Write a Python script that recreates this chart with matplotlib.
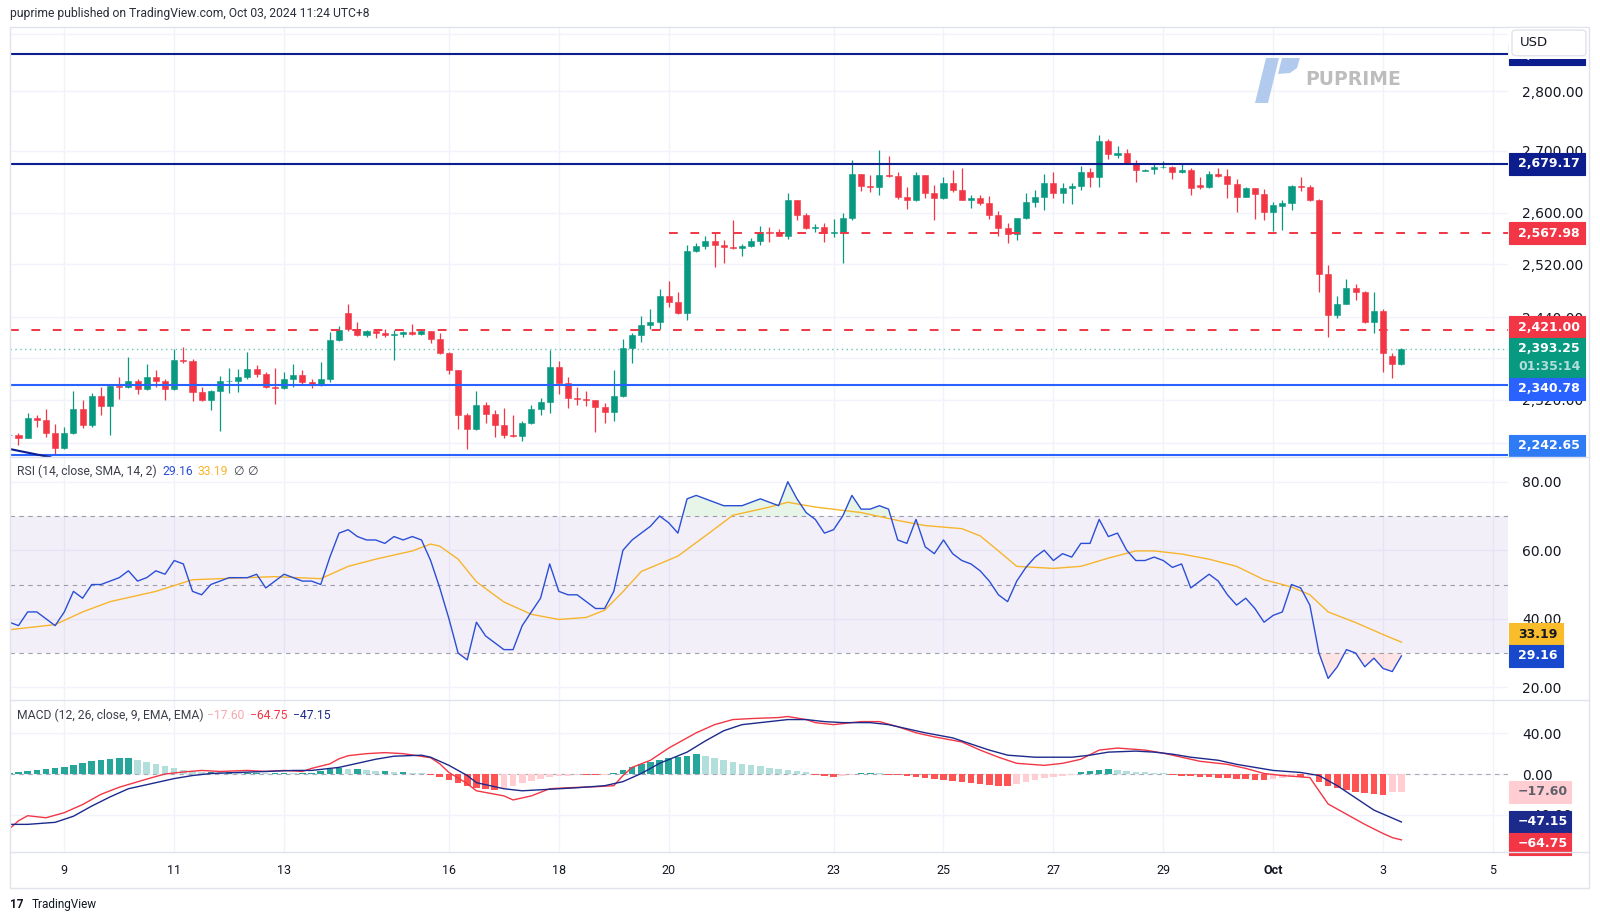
import numpy as np
import pandas as pd
import matplotlib
matplotlib.use("Agg")
import matplotlib.pyplot as plt
import matplotlib.dates as mdates
from matplotlib.patches import Rectangle, Polygon, FancyBboxPatch
from matplotlib.lines import Line2D
from matplotlib.ticker import NullLocator, NullFormatter

W, H = 1600, 922
GREEN = '#089981'
RED = '#f23645'
NAVY = '#0c1e8e'
BLUE = '#2962ff'
GRID = '#f0f3fa'
TEXT = '#131722'
RSI_C = '#2a4fd6'
SMA_C = '#f7b52c'

# ---------------- data (4h candles, UTC+8) ----------------
bar_start = '2024-09-08 00:00'
opens = [2270, 2271, 2267, 2295, 2292, 2273, 2253, 2274, 2307, 2284,
         2325, 2311, 2340, 2338, 2347, 2335, 2352, 2347, 2335, 2377,
         2375, 2331, 2320, 2333, 2346, 2347, 2352, 2364, 2357, 2338,
         2336, 2350, 2355, 2345, 2341, 2349, 2406, 2446, 2422, 2413,
         2420, 2416, 2413, 2415, 2418, 2415, 2419, 2408, 2387, 2362,
         2298, 2279, 2313, 2300, 2284, 2270, 2269, 2287, 2307, 2317,
         2367, 2344, 2322, 2321, 2319, 2310, 2303, 2325, 2395, 2413,
         2428, 2433, 2471, 2463, 2446, 2540, 2548, 2556, 2550, 2547,
         2545, 2548, 2556, 2570, 2568, 2564, 2620, 2596, 2576, 2578,
         2568, 2570, 2592, 2662, 2643, 2641, 2661, 2659, 2625, 2621,
         2660, 2631, 2624, 2648, 2636, 2621, 2623, 2615, 2597, 2576,
         2567, 2592, 2617, 2626, 2648, 2632, 2640, 2643, 2666, 2657,
         2717, 2693, 2696, 2681, 2668, 2670, 2673, 2674, 2665, 2669,
         2644, 2642, 2662, 2659, 2646, 2626, 2639, 2630, 2601, 2611,
         2616, 2643, 2641, 2620, 2505, 2443, 2460, 2484, 2477, 2432,
         2449, 2383, 2371]
highs = [2273, 2274, 2302, 2298, 2307, 2286, 2282, 2332, 2319, 2330,
         2338, 2341, 2352, 2381, 2349, 2371, 2363, 2350, 2393, 2396,
         2379, 2338, 2334, 2354, 2366, 2364, 2389, 2370, 2360, 2365,
         2360, 2371, 2363, 2350, 2374, 2418, 2427, 2459, 2433, 2421,
         2422, 2422, 2421, 2420, 2430, 2422, 2420, 2417, 2389, 2362,
         2302, 2333, 2317, 2306, 2308, 2299, 2290, 2313, 2322, 2392,
         2376, 2352, 2338, 2333, 2320, 2316, 2363, 2407, 2417, 2441,
         2452, 2482, 2494, 2477, 2550, 2553, 2564, 2568, 2558, 2588,
         2551, 2560, 2579, 2577, 2575, 2632, 2621, 2600, 2582, 2584,
         2590, 2600, 2685, 2663, 2661, 2702, 2691, 2665, 2642, 2666,
         2661, 2645, 2658, 2669, 2672, 2629, 2628, 2627, 2603, 2584,
         2592, 2632, 2636, 2662, 2665, 2647, 2648, 2675, 2672, 2726,
         2719, 2708, 2703, 2685, 2670, 2681, 2683, 2676, 2681, 2672,
         2657, 2668, 2672, 2670, 2654, 2642, 2640, 2638, 2617, 2620,
         2645, 2657, 2644, 2622, 2518, 2472, 2498, 2490, 2479, 2477,
         2452, 2387, 2395]
lows = [2266, 2257, 2266, 2282, 2268, 2244, 2251, 2272, 2281, 2282,
        2298, 2271, 2321, 2337, 2328, 2334, 2338, 2320, 2334, 2372,
        2318, 2318, 2306, 2276, 2329, 2331, 2350, 2352, 2337, 2314,
        2335, 2338, 2343, 2336, 2340, 2345, 2405, 2420, 2412, 2411,
        2409, 2411, 2377, 2410, 2414, 2414, 2401, 2386, 2356, 2279,
        2251, 2278, 2287, 2268, 2266, 2268, 2262, 2286, 2299, 2302,
        2328, 2309, 2313, 2311, 2275, 2287, 2290, 2324, 2373, 2403,
        2422, 2422, 2455, 2445, 2436, 2538, 2544, 2516, 2522, 2544,
        2533, 2546, 2549, 2554, 2563, 2559, 2588, 2575, 2570, 2554,
        2562, 2522, 2589, 2635, 2634, 2629, 2657, 2622, 2606, 2619,
        2624, 2589, 2622, 2633, 2620, 2608, 2612, 2590, 2563, 2553,
        2557, 2590, 2609, 2605, 2624, 2615, 2614, 2636, 2642, 2642,
        2686, 2689, 2679, 2649, 2667, 2662, 2672, 2655, 2664, 2629,
        2638, 2639, 2657, 2624, 2601, 2625, 2591, 2589, 2571, 2573,
        2605, 2635, 2619, 2477, 2410, 2438, 2459, 2465, 2431, 2417,
        2359, 2351, 2370]
closes = [2271, 2267, 2295, 2292, 2273, 2253, 2274, 2307, 2284, 2325,
          2311, 2340, 2338, 2347, 2335, 2352, 2347, 2335, 2377, 2375,
          2331, 2320, 2333, 2346, 2347, 2352, 2364, 2357, 2338, 2336,
          2350, 2355, 2345, 2341, 2349, 2406, 2421, 2422, 2413, 2420,
          2416, 2413, 2415, 2418, 2415, 2419, 2408, 2387, 2362, 2298,
          2279, 2313, 2300, 2284, 2270, 2269, 2287, 2307, 2317, 2367,
          2344, 2322, 2321, 2319, 2310, 2303, 2325, 2395, 2413, 2428,
          2433, 2471, 2463, 2446, 2540, 2548, 2556, 2550, 2546, 2545,
          2548, 2556, 2570, 2568, 2564, 2620, 2596, 2576, 2578, 2568,
          2570, 2592, 2662, 2643, 2641, 2661, 2659, 2625, 2621, 2660,
          2631, 2624, 2648, 2636, 2621, 2623, 2615, 2597, 2576, 2567,
          2592, 2617, 2626, 2648, 2632, 2640, 2643, 2666, 2657, 2717,
          2695, 2696, 2681, 2669, 2669, 2673, 2674, 2665, 2669, 2640,
          2642, 2662, 2659, 2646, 2626, 2639, 2630, 2601, 2613, 2616,
          2643, 2641, 2620, 2505, 2443, 2460, 2484, 2477, 2432, 2449,
          2387, 2371, 2393.25]

level_top = 2864.0
level_res = 2679.17
level_res2 = 2567.98
level_mid = 2421.00
level_sup = 2340.78
level_sup2 = 2242.65
last_price = 2393.25
countdown = '01:35:14'
res2_from = '2024-09-20 00:00'
trend_t = ['2024-09-07 20:00', '2024-09-08 18:00']
trend_p = [2254, 2240]

price_ticks = [2260, 2320, 2380, 2440, 2520, 2600, 2700, 2800, 2900]
hidden_ticks = [2260, 2380, 2900]   # covered by price tags in the reference

rsi = [39, 38, 42, 42, 40, 38, 42, 48, 46, 50,
       50, 51, 52, 54, 51, 52, 54, 53, 57, 56,
       48, 47, 50, 51, 52, 52, 52, 53, 49, 51,
       53, 52, 51, 51, 50, 58, 65, 66, 64, 63,
       63, 62, 64, 63, 64, 63, 57, 49, 40, 30,
       28, 39, 35, 33, 31, 31, 38, 42, 46, 56,
       48, 47, 47, 45, 43, 43, 48, 60, 63, 65,
       67, 70, 68, 65, 75, 76, 75, 74, 73, 73,
       73, 74, 75, 74, 73, 80, 75, 71, 69, 65,
       66, 70, 76, 72, 72, 73, 72, 63, 62, 69,
       61, 59, 63, 59, 57, 56, 54, 51, 47, 45,
       51, 55, 58, 60, 57, 59, 58, 62, 62, 69,
       64, 65, 60, 57, 57, 58, 57, 55, 56, 49,
       51, 53, 51, 47, 44, 46, 43, 39, 41, 42,
       50, 49, 44, 30, 22.6, 26, 31, 30, 26, 28.5,
       25.5, 24.6, 29.16]
rsi_sma_idx = [0, 5, 8, 11, 16, 20, 26, 29, 34, 37, 40, 44, 46, 47, 49, 51, 54,
               57, 60, 63, 65, 67, 69, 73, 76, 79, 83, 85, 88, 93, 97, 100, 104,
               106, 108, 110, 114, 117, 120, 123, 125, 128, 131, 134, 137, 140,
               142, 144, 147, 150, 152]
rsi_sma = [36.8, 38.3, 42, 45, 48, 51.4, 52, 52.3, 51.7, 55.3, 57.4, 59.8, 61.8,
           61.2, 57.4, 50.8, 44.9, 41.3, 39.8, 40.4, 42.5, 47.9, 53.8, 58.3, 64.2,
           70.2, 72.6, 74, 72.6, 71, 68.7, 67.2, 66.3, 64.2, 59.8, 55.3, 54.7,
           55.3, 57.7, 59.8, 59.8, 58.9, 57.4, 55.3, 51.4, 49.3, 47, 42, 38.9,
           35.4, 33.19]

macd_idx = [0, 1, 2, 4, 6, 8, 10, 12, 15, 17, 19, 21, 23, 26, 28, 30, 32, 33, 35,
            36, 37, 39, 41, 43, 46, 47, 48, 50, 51, 54, 55, 57, 59, 61, 64, 66,
            67, 68, 70, 72, 75, 77, 79, 81, 84, 85, 87, 88, 90, 93, 95, 97, 99,
            101, 104, 106, 108, 110, 113, 115, 117, 119, 121, 124, 126, 128, 130,
            133, 135, 137, 139, 142, 143, 144, 146, 148, 150, 151, 152]
macd = [-54, -46, -41, -43, -38, -30, -20, -13, -5, 0, 2, 3.5, 2.5, 3.5, 2.5,
        3.5, 2.5, 5.5, 10, 15, 18, 20, 21, 20, 16, 10, 1.5, -9.5, -16.5, -21.5,
        -25.5, -21.5, -14.5, -13.5, -12.5, -11.5, -1.5, 6.5, 13.5, 25.5, 40.5,
        48.5, 53.5, 54.5, 55.5, 56.5, 53.5, 50.5, 48.5, 51.5, 51.5, 46.5, 40.5,
        36.5, 31.5, 23.5, 16.5, 10.5, 8.5, 10.5, 14.5, 23.5, 25.5, 23.5, 20.5,
        16.5, 12.5, 9.5, 5.5, 0.5, -1.5, -3.5, -16.5, -29.5, -39.5, -49.5,
        -58.5, -62.5, -64.75]
signal_idx = [0, 2, 5, 7, 9, 11, 13, 16, 18, 20, 22, 25, 28, 31, 33, 36, 38, 40,
              42, 45, 46, 48, 50, 51, 54, 56, 58, 60, 62, 65, 67, 69, 71, 74, 76,
              78, 80, 83, 85, 87, 89, 91, 94, 96, 98, 100, 103, 105, 107, 109, 112,
              114, 116, 118, 120, 123, 125, 127, 129, 132, 134, 136, 138, 141, 143,
              145, 147, 149, 152]
signal = [-49.5, -49.5, -47.5, -41.5, -31.5, -22.5, -14.5, -8.5, -4.5, -1.5, 0.5,
          1.5, 2.5, 3.5, 3.5, 6.5, 10.5, 14.5, 17.5, 18.5, 16.5, 8.5, -1.5, -8.5,
          -14.5, -16.5, -15.5, -14.5, -13.5, -11.5, -7.5, 0.5, 10.5, 21.5, 32.5,
          42.5, 48.5, 51.5, 53.5, 53.5, 51.5, 50.5, 50.5, 48.5, 44.5, 40.5, 35.5,
          29.5, 23.5, 18.5, 16.5, 16.5, 16.5, 18.5, 21.5, 22.5, 21.5, 19.5, 16.5,
          13.5, 9.5, 6.5, 3.5, 1.5, -1.5, -11.5, -23.5, -35.5, -47.15]
hist = [1, 2, 3,
        4, 5, 6, 7,
        9, 11, 13, 14, 15, 16, 16,
        14, 12, 10, 8, 6, 4, 3,
        2, 2, 1.5, 1.5, 1, 1, 1, 0.5, 1, 1, 0.5, 0.5, 1,
        3, 5, 6,
        5, 5, 4, 3, 3, 2, 2, 1, 0.5, -1,
        -3, -6, -9, -12, -14, -15, -16, -14,
        -12, -9, -7, -5, -3, -2,
        -1.5, -1, -1, -1, -0.5, 0.5,
        4, 7, 10, 12, 14, 16, 17, 18, 20,
        18, 16, 14, 12, 10, 9, 8, 6, 5, 4, 3, 2,
        -1, -2, -3, -2, -1,
        1, 1, 0.5, -0.5, -1,
        -2, -3, -4, -5, -6, -7, -8, -9, -10, -11, -12, -12,
        -10, -8, -6, -4, -3, -2, -1,
        2, 3, 4, 5, 4, 3,
        2, 1.5, 1, 0.5,
        -1, -2, -2, -3, -3, -4, -4, -5, -5, -6, -6, -5, -4,
        -3, -3, -2,
        -8, -12, -14, -16, -18, -19, -20, -21, -18, -17.6]
rsi_last, rsi_sma_last = 29.16, 33.19
hist_last, macd_last, signal_last = -17.60, -64.75, -47.15

day_ticks = ['2024-09-09', '2024-09-11', '2024-09-13', '2024-09-16', '2024-09-18',
             '2024-09-20', '2024-09-23', '2024-09-25', '2024-09-27', '2024-09-29',
             '2024-10-01', '2024-10-03', '2024-10-05']
day_labels = ['9', '11', '13', '16', '18', '20', '23', '25', '27', '29', 'Oct', '3', '5']

# ---------------- figure ----------------
plt.rcParams['font.family'] = ['DejaVu Sans']
fig = plt.figure(figsize=(W / 100, H / 100), dpi=100)
fig.patch.set_facecolor('white')

L, R = 10, 1508
def pane(top, bottom):
    return fig.add_axes([L / W, 1 - bottom / H, (R - L) / W, (bottom - top) / H])

ax_p = pane(27, 457)
ax_r = pane(457, 700)
ax_m = pane(700, 852)

times = pd.date_range(bar_start, periods=len(closes), freq='4h')
t = mdates.date2num(times)
t9 = mdates.date2num(pd.Timestamp('2024-09-09'))
xlim = (t9 - 0.988, t9 + 26.273)
day_pos = mdates.date2num(pd.to_datetime(day_ticks))

for ax in (ax_p, ax_r, ax_m):
    ax.set_facecolor('white')
    for s in ax.spines.values():
        s.set_visible(False)
    ax.set_xlim(*xlim)
    ax.set_xticks(day_pos)
    ax.tick_params(axis='x', length=0, labelbottom=False)
    ax.yaxis.tick_right()
    ax.tick_params(axis='y', length=0, pad=10, labelsize=10, labelcolor=TEXT)
    ax.grid(True, color=GRID, lw=1)
    ax.set_axisbelow(True)

# price pane
o = np.array(opens, float); hi = np.array(highs, float)
lo = np.array(lows, float); c = np.array(closes, float)
cols = np.where(c >= o, GREEN, RED)
ax_p.set_yscale('log')
ax_p.set_ylim(2240.4, 2912)
ax_p.set_yticks(price_ticks)
ax_p.set_yticklabels(['' if v in hidden_ticks else f'{v:,.2f}' for v in price_ticks])
ax_p.yaxis.set_minor_locator(NullLocator())
ax_p.yaxis.set_minor_formatter(NullFormatter())

ax_p.vlines(t, lo, hi, colors=cols, lw=0.9, zorder=3)
body = np.maximum(np.abs(c - o), 0.8)
ax_p.bar(t, body, bottom=np.minimum(o, c), width=0.11, color=cols,
         edgecolor=cols, lw=0.4, zorder=4)

ax_p.axhline(level_top, color=NAVY, lw=1.5, zorder=5)
ax_p.axhline(level_res, color=NAVY, lw=1.5, zorder=5)
ax_p.axhline(level_sup, color=BLUE, lw=1.5, zorder=5)
ax_p.axhline(level_sup2, color=BLUE, lw=1.5, zorder=5)
ax_p.axhline(level_mid, color=RED, lw=1.4, dashes=(4.5, 6.5), zorder=5)
ax_p.plot([mdates.date2num(pd.Timestamp(res2_from)), xlim[1] + 1], [level_res2] * 2,
          color=RED, lw=1.4, dashes=(4.5, 6.5), zorder=5)
ax_p.axhline(last_price, color=GREEN, lw=1, ls=(0, (1, 2.5)), alpha=0.6, zorder=2)
ax_p.plot(mdates.date2num(pd.to_datetime(trend_t)), trend_p, color=NAVY, lw=1.5, zorder=5)
ax_p.set_xlim(*xlim)

# RSI pane
ax_r.set_ylim(16.3, 87.21)
ax_r.set_yticks([20, 40, 60, 80])
ax_r.set_yticklabels(['20.00', '40.00', '60.00', '80.00'])
ax_r.axhspan(30, 70, color='#7e57c2', alpha=0.09, lw=0)
for lvl in (70, 50, 30):
    ax_r.axhline(lvl, color='#787b86', lw=0.8, dashes=(4, 4), alpha=0.7)
rv = np.array(rsi, float)
ax_r.fill_between(t, rv, 70, where=rv > 70, interpolate=True, color='#4caf50', alpha=0.13, lw=0)
ax_r.fill_between(t, rv, 30, where=rv < 30, interpolate=True, color='#f23645', alpha=0.13, lw=0)
ax_r.plot(t, rv, color=RSI_C, lw=1.0, zorder=4)
ax_r.plot(t[rsi_sma_idx], rsi_sma, color=SMA_C, lw=1.0, zorder=3)

# MACD pane
ax_m.set_ylim(-76.66, 72.73)
ax_m.set_yticks([-40, 0, 40])
ax_m.set_yticklabels(['\u221240.00', '0.00', '40.00'])
ax_m.axhline(0, color='#787b86', lw=0.8, dashes=(4, 4), alpha=0.6)
hv = np.array(hist, float)
hcols = []
prev = 0.0
for v in hv:
    if v >= 0:
        hcols.append('#26a69a' if v >= prev else '#b2dfdb')
    else:
        hcols.append('#ff5252' if v <= prev else '#ffcdd2')
    prev = v
ax_m.bar(t, hv, width=0.12, color=hcols, lw=0, zorder=2)
ax_m.plot(t[macd_idx], macd, color='#f23645', lw=1.0, zorder=3)
ax_m.plot(t[signal_idx], signal, color='#1c2a8c', lw=1.0, zorder=4)

ax_m.tick_params(axis='x', labelbottom=True, pad=8.5, labelsize=9, labelcolor=TEXT)
ax_m.set_xticklabels(day_labels, family=['Roboto', 'DejaVu Sans'])
for lab in ax_m.get_xticklabels():
    if lab.get_text() == 'Oct':
        lab.set_fontweight('bold')

# ---------------- overlay: frame, tags, texts ----------------
def box(x0, y0, x1, y1, fc, ec=None, z=5, lw=0.8):
    fig.add_artist(Rectangle((x0 / W, 1 - y1 / H), (x1 - x0) / W, (y1 - y0) / H,
                             transform=fig.transFigure, fc=fc, ec=ec or fc, lw=lw, zorder=z))

def txt(x, y, s, **kw):
    kw.setdefault('va', 'center')
    kw.setdefault('ha', 'left')
    kw.setdefault('zorder', 6)
    fig.text(x / W, 1 - y / H, s, **kw)

def ypix(ax, v):
    return H - ax.transData.transform((xlim[0], v))[1]

def tag(yc, s, fc, tc='white', x1=1585, h=21.7):
    box(1509, yc - h / 2, x1, yc + h / 2, fc)
    txt(1518, yc, s, color=tc, fontsize=9, fontweight='bold')

# frame and separators
for yy in (457, 700, 852):
    fig.add_artist(Line2D([10 / W, 1589 / W], [1 - yy / H] * 2, transform=fig.transFigure,
                          color='#e0e3eb', lw=1, zorder=7))
fig.add_artist(Rectangle((10 / W, 1 - 888 / H), 1579 / W, 861 / H, transform=fig.transFigure,
                         fc='none', ec='#e0e3eb', lw=1, zorder=7))

# price tags
tag(ypix(ax_p, level_top), f'{level_top:,.2f}', NAVY)
tag(ypix(ax_p, level_res), f'{level_res:,.2f}', NAVY)
tag(ypix(ax_p, level_res2), f'{level_res2:,.2f}', RED)
y_last = ypix(ax_p, last_price)
tag(y_last - 10.7 - 10.85, f'{level_mid:,.2f}', RED)
box(1509, y_last - 10.7, 1585, y_last + 29.3, GREEN)
txt(1518, y_last, f'{last_price:,.2f}', color='white', fontsize=9, fontweight='bold')
txt(1518, y_last + 17.7, countdown, color='#b2dfdb', fontsize=9, fontweight='bold')
tag(y_last + 29.3 + 10.85, f'{level_sup:,.2f}', BLUE)
tag(457 - 0.3 - 10.85, f'{level_sup2:,.2f}', '#2f7bf5')

# USD box (with its white margin hiding most of the top tag)
box(1509, 28, 1588, 59, 'white', z=8, lw=0)
fig.add_artist(FancyBboxPatch((1512 / W, 1 - 55.7 / H), 74 / W, 25.7 / H,
                              boxstyle='round,pad=0,rounding_size=0.003',
                              transform=fig.transFigure, fc='white', ec='#e0e3eb',
                              lw=1, zorder=8.5))
txt(1520, 43, 'USD', color=TEXT, fontsize=9.5, zorder=9)

# RSI tags
y_rsi = ypix(ax_r, rsi_last)
tag(y_rsi - 21.7, f'{rsi_sma_last:.2f}', '#f9bd2c', tc=TEXT, x1=1563)
tag(y_rsi, f'{rsi_last:.2f}', '#1848cc', x1=1563)

# MACD tags
y_h = ypix(ax_m, hist_last)
y_s = ypix(ax_m, signal_last)
y_mc = max(ypix(ax_m, macd_last), y_s + 21.7)
tag(y_h, f'{hist_last:.2f}'.replace('-', '\u2212'), '#ffcdd2', tc='#5d606b', x1=1571)
tag(y_s, f'{signal_last:.2f}'.replace('-', '\u2212'), '#1c2a8c', x1=1571)
tag(y_mc, f'{macd_last:.2f}'.replace('-', '\u2212'), '#f23645', x1=1571)

# header and pane legends
HF = ['Roboto', 'DejaVu Sans']
txt(10, 14, 'puprime published on TradingView.com, Oct 03, 2024 11:24 UTC+8',
    color='#2a2e39', fontsize=8.7, family=HF)
txt(17, 471.7, 'RSI (14, close, SMA, 14, 2)', color='#3b3f4a', fontsize=8.7, family=HF)
txt(162.7, 471.7, f'{rsi_last:.2f}', color=RSI_C, fontsize=8.7, family=HF)
txt(197.3, 471.7, f'{rsi_sma_last:.2f}', color=SMA_C, fontsize=8.7, family=HF)
txt(233, 471.7, '\u2205', color='#3b3f4a', fontsize=8.7, family=HF)
txt(247, 471.7, '\u2205', color='#3b3f4a', fontsize=8.7, family=HF)
txt(17, 715, 'MACD (12, 26, close, 9, EMA, EMA)', color='#3b3f4a', fontsize=8.7, family=HF)
txt(207, 715, f'{hist_last:.2f}'.replace('-', '\u2212'), color='#f7a9b0', fontsize=8.7, family=HF)
txt(250, 715, f'{macd_last:.2f}'.replace('-', '\u2212'), color='#f23645', fontsize=8.7, family=HF)
txt(293, 715, f'{signal_last:.2f}'.replace('-', '\u2212'), color='#1c2a8c', fontsize=8.7, family=HF)

# footer
txt(10, 904, '17', color=TEXT, fontsize=8.5, fontweight='bold', family=HF)
txt(32, 904, 'TradingView', color=TEXT, fontsize=8.5, family=HF)

# watermark
def poly(pts, fc):
    fig.add_artist(Polygon([(x / W, 1 - y / H) for x, y in pts], closed=True,
                           transform=fig.transFigure, fc=fc, ec='none', zorder=6, alpha=0.9))
poly([(1255, 103), (1268, 103), (1279, 58), (1266, 58)], '#a9c5ec')
poly([(1282, 58), (1300, 58), (1297, 68), (1290, 73), (1278, 74)], '#a9c5ec')
txt(1305, 79.6, 'PUPRIME', color='#bdbdbd', fontsize=13.5, fontweight='bold')

fig.savefig('out.png', dpi=100, facecolor='white')
